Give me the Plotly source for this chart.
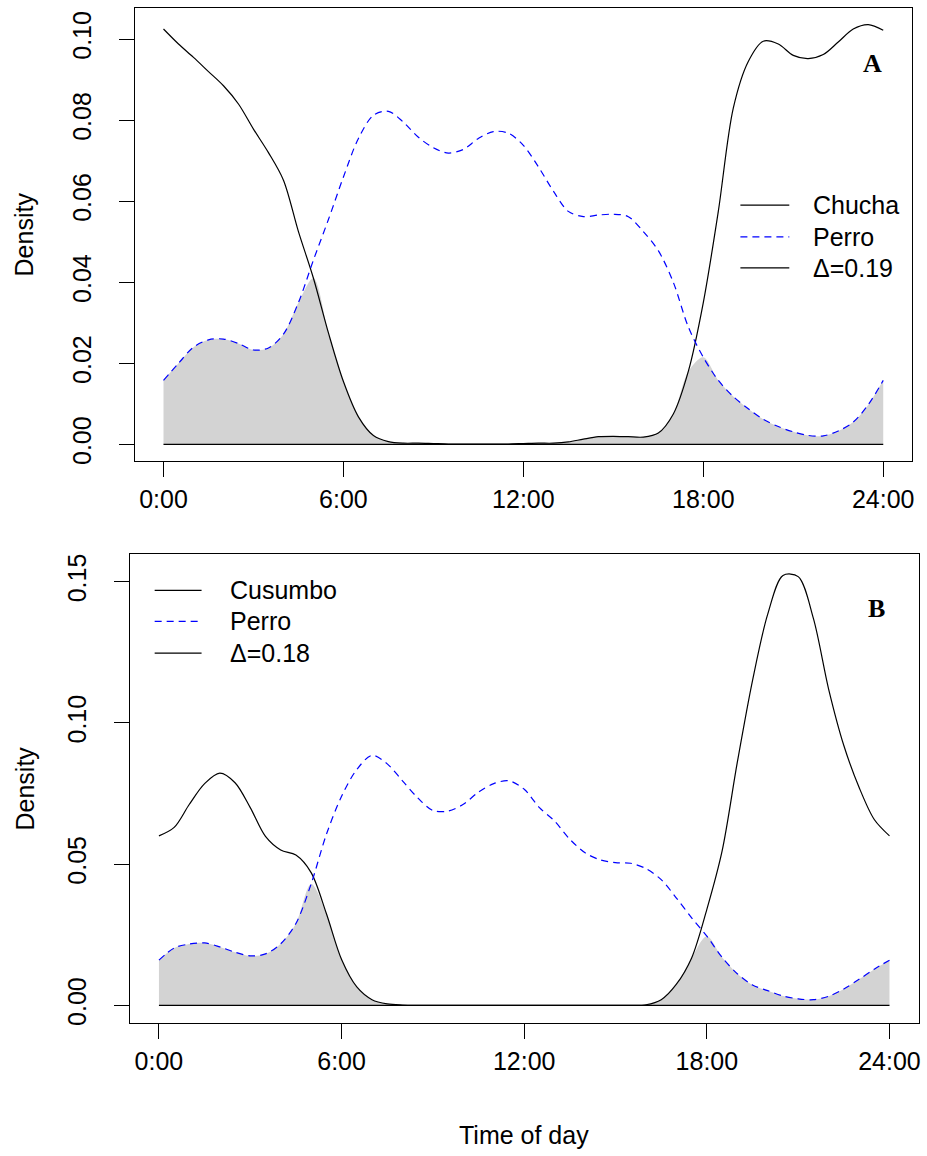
import numpy as np
import plotly.graph_objects as go

W, H = 927, 1156

# ---------------- data ----------------
hours = [i * 0.5 for i in range(49)]

chucha = [0.1025, 0.0988, 0.0955, 0.0920, 0.0885, 0.0840, 0.0778, 0.0720, 0.0652, 0.0525,
          0.0410, 0.0275, 0.0155, 0.0068, 0.0022, 0.0007, 0.0003, 0.0003, 0.0002, 0.0001,
          0.0001, 0.0001, 0.0001, 0.0001, 0.0002, 0.0003, 0.0003, 0.0006, 0.0013, 0.0019,
          0.0020, 0.0019, 0.0018, 0.0028, 0.0075, 0.0180, 0.0350, 0.0575, 0.0830, 0.0945,
          0.0995, 0.0988, 0.0960, 0.0952, 0.0962, 0.0993, 0.1025, 0.1036, 0.1022]

perro_a = [0.0158, 0.0200, 0.0240, 0.0258, 0.0260, 0.0249, 0.0233, 0.0238, 0.0272, 0.0350,
           0.0455, 0.0555, 0.0660, 0.0755, 0.0812, 0.0822, 0.0795, 0.0758, 0.0732, 0.0719,
           0.0728, 0.0755, 0.0772, 0.0768, 0.0738, 0.0685, 0.0625, 0.0575, 0.0562, 0.0566,
           0.0568, 0.0562, 0.0525, 0.0478, 0.0400, 0.0290, 0.0215, 0.0158, 0.0118, 0.0088,
           0.0062, 0.0044, 0.0031, 0.0022, 0.0021, 0.0033, 0.0055, 0.0098, 0.0158]

cusumbo = [0.0600, 0.0630, 0.0712, 0.0785, 0.0822, 0.0788, 0.0700, 0.0598, 0.0550, 0.0532,
           0.0470, 0.0325, 0.0162, 0.0065, 0.0020, 0.0005, 0.0001, 0.0, 0.0, 0.0,
           0.0, 0.0, 0.0, 0.0, 0.0, 0.0, 0.0, 0.0, 0.0, 0.0,
           0.0, 0.0, 0.0002, 0.0020, 0.0075, 0.0168, 0.0340, 0.0546, 0.0860, 0.1150,
           0.1385, 0.1522, 0.1518, 0.1370, 0.1120, 0.0920, 0.0772, 0.0658, 0.0600]

perro_b = [0.0160, 0.0203, 0.0217, 0.0221, 0.0207, 0.0188, 0.0175, 0.0182, 0.0218, 0.0290,
           0.0430, 0.0605, 0.0740, 0.0835, 0.0885, 0.0855, 0.0795, 0.0735, 0.0690, 0.0688,
           0.0712, 0.0755, 0.0785, 0.0795, 0.0765, 0.0700, 0.0652, 0.0588, 0.0540, 0.0515,
           0.0505, 0.0503, 0.0484, 0.0445, 0.0380, 0.0310, 0.0245, 0.0170, 0.0112, 0.0072,
           0.0052, 0.0033, 0.0023, 0.0020, 0.0032, 0.0058, 0.0092, 0.0128, 0.0160]

tick_hours = [0, 6, 12, 18, 24]
tick_text = ["0:00", "6:00", "12:00", "18:00", "24:00"]
ticks_a = [0.00, 0.02, 0.04, 0.06, 0.08, 0.10]
ticks_b = [0.00, 0.05, 0.10, 0.15]

panels = [
    dict(sp=chucha, dog=perro_a, sp_name="Chucha", delta="\u0394=0.19", letter="A",
         yticks=ticks_a, xref="x", yref="y"),
    dict(sp=cusumbo, dog=perro_b, sp_name="Cusumbo", delta="\u0394=0.18", letter="B",
         yticks=ticks_b, xref="x2", yref="y2"),
]

# ---------------- layout helpers ----------------
def px(x):
    return x / W

def py(y):
    return 1 - y / H

FONT = "Liberation Sans, Arial, sans-serif"
FS = 25
SMOOTH = 0.9

fig = go.Figure()

for p in panels:
    ov = np.minimum(np.array(p["sp"]), np.array(p["dog"]))
    common = dict(xaxis=p["xref"], yaxis=p["yref"], showlegend=False, hoverinfo="skip")
    fig.add_trace(go.Scatter(x=hours, y=ov, mode="lines", fill="tozeroy",
                             fillcolor="#d3d3d3",
                             line=dict(width=0, shape="spline", smoothing=SMOOTH),
                             **common))
    fig.add_trace(go.Scatter(x=[hours[0], hours[-1]], y=[0, 0], mode="lines",
                             line=dict(color="black", width=1.3), **common))
    fig.add_trace(go.Scatter(x=hours, y=p["sp"], mode="lines",
                             line=dict(color="black", width=1.2, shape="spline",
                                       smoothing=SMOOTH),
                             **common))
    fig.add_trace(go.Scatter(x=hours, y=p["dog"], mode="lines",
                             line=dict(color="#0000ff", width=1.2, dash="7px,5px",
                                       shape="spline", smoothing=SMOOTH),
                             **common))

# axis geometry (pixels)
geo = [
    dict(l=135, r=914, t=7, b=462, yr=[-0.0041, 0.1077]),
    dict(l=130, r=920.7, t=555.7, b=1026, yr=[-0.0061, 0.1597]),
]

axis_common = dict(showgrid=False, zeroline=False, showline=True, mirror=True,
                   linecolor="black", linewidth=1, ticks="outside", ticklen=15,
                   tickwidth=1, tickcolor="black",
                   tickfont=dict(family=FONT, size=FS, color="black"))

for i, (g, p) in enumerate(zip(geo, panels)):
    sfx = "" if i == 0 else "2"
    fig.update_layout(**{
        "xaxis" + sfx: dict(domain=[px(g["l"]), px(g["r"])], range=[-0.96, 24.96],
                            tickmode="array", tickvals=tick_hours, ticktext=tick_text,
                            anchor="y" + sfx, ticklabelstandoff=1, **axis_common),
        "yaxis" + sfx: dict(domain=[py(g["b"]), py(g["t"])], range=g["yr"],
                            tickmode="array", tickvals=p["yticks"],
                            ticktext=["%.2f" % v for v in p["yticks"]],
                            tickangle=-90, anchor="x" + sfx, ticklabelstandoff=18,
                            **axis_common),
    })

# ---------------- annotations / legends ----------------
ann = []
shapes = []

def text(x, y, s, size=FS, xanchor="center", angle=0, family=FONT, bold=False):
    ann.append(dict(x=px(x), y=py(y), xref="paper", yref="paper",
                    text=("<b>%s</b>" % s) if bold else s,
                    showarrow=False, xanchor=xanchor, yanchor="middle", textangle=angle,
                    font=dict(family=family, size=size, color="black")))

def seg(x0, x1, y, color, dash="solid"):
    shapes.append(dict(type="line", xref="paper", yref="paper", x0=px(x0), x1=px(x1),
                       y0=py(y), y1=py(y), line=dict(color=color, width=1.3, dash=dash)))

# axis titles
text(25, 234.5, "Density", angle=-90)
text(25, 791, "Density", angle=-90)
text(525, 1139, "Time of day")

# panel letters
text(874, 63, "A", size=26, family="Liberation Serif, Times New Roman, serif", bold=True)
text(878, 610, "B", size=26, family="Liberation Serif, Times New Roman, serif", bold=True)

# legends
leg = [
    dict(x0=742, x1=791, tx=813, ys=[205, 237, 268], p=panels[0]),
    dict(x0=155, x1=202, tx=228, ys=[592, 623, 655], p=panels[1]),
]
for L in leg:
    names = [L["p"]["sp_name"], "Perro", L["p"]["delta"]]
    cols = ["black", "#0000ff", "black"]
    dashes = ["solid", "7px,5px", "solid"]
    for nm, c, d, y in zip(names, cols, dashes, L["ys"]):
        seg(L["x0"], L["x1"], y, c, d)
        text(L["tx"], y, nm, xanchor="left")

fig.update_layout(width=W, height=H, margin=dict(l=0, r=0, t=0, b=0),
                  paper_bgcolor="white", plot_bgcolor="white",
                  annotations=ann, shapes=shapes, showlegend=False)

fig.write_html("out.html")
